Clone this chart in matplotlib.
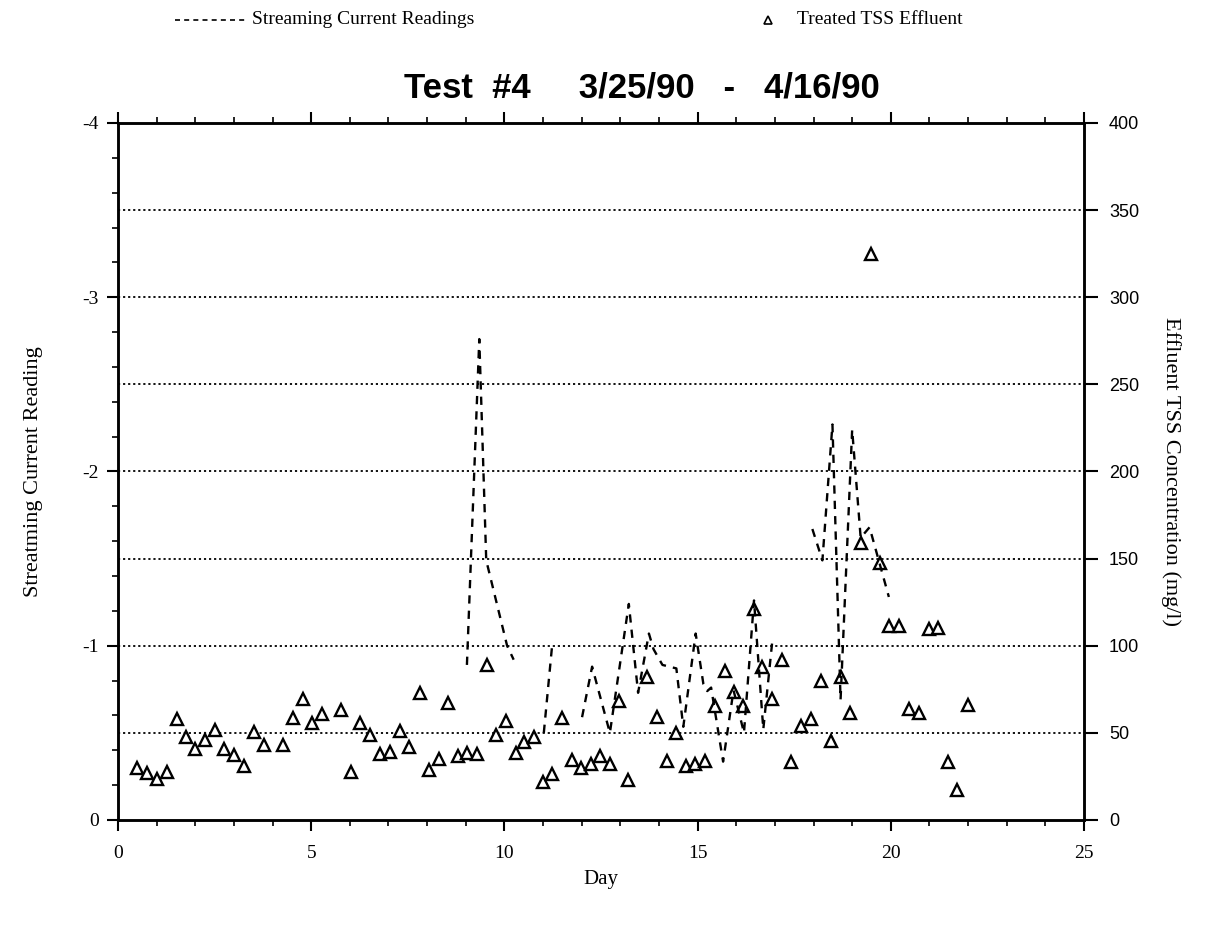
import numpy as np
import matplotlib
matplotlib.use("Agg")
import matplotlib.pyplot as plt
from matplotlib.lines import Line2D
from matplotlib.ticker import MultipleLocator

# ---------------- data ----------------
tss_day = [0.50, 0.74, 1.00, 1.26, 1.52, 1.76, 2.00, 2.26, 2.51, 2.75, 3.01, 3.26,
           3.52, 3.77, 4.26, 4.53, 4.78, 5.02, 5.28, 5.78, 6.03, 6.27, 6.53, 6.77,
           7.03, 7.29, 7.54, 7.81, 8.04, 8.30, 8.55, 8.79, 9.03, 9.29, 9.54, 9.78,
           10.05, 10.29, 10.52, 10.76, 10.99, 11.24, 11.49, 11.74, 11.99, 12.23,
           12.47, 12.73, 12.97, 13.20, 13.70, 13.95, 14.20, 14.45, 14.69, 14.93,
           15.18, 15.45, 15.70, 15.94, 16.18, 16.46, 16.67, 16.93, 17.19, 17.42,
           17.68, 17.94, 18.20, 18.45, 18.70, 18.95, 19.22, 19.48, 19.72, 19.96,
           20.22, 20.47, 20.73, 20.98, 21.23, 21.47, 21.71, 21.99]
tss_val = [29.7, 26.8, 23.7, 27.5, 57.8, 47.8, 40.6, 45.9, 51.6, 40.6, 37.3, 31.0,
           50.7, 43.0, 43.0, 58.8, 69.4, 55.5, 61.1, 63.1, 27.7, 55.5, 48.8, 37.7,
           38.8, 51.1, 42.1, 73.1, 28.7, 35.2, 67.0, 36.9, 38.5, 37.6, 89.0, 48.8,
           57.0, 38.2, 44.9, 47.4, 22.0, 26.4, 58.3, 34.4, 30.1, 32.1,
           36.7, 32.1, 68.3, 23.0, 81.8, 59.3, 33.9, 50.1, 31.0, 32.1,
           33.9, 65.4, 85.7, 73.6, 65.4, 121.0, 88.0, 69.7, 91.8, 33.4,
           53.9, 57.7, 79.8, 45.5, 82.2, 61.6, 158.8, 325.0, 147.3, 111.3,
           111.3, 63.5, 61.2, 109.4, 110.0, 33.5, 17.2, 66.0]

sc_day = [9.03, 9.35, 9.53, 10.07, 10.24, np.nan,
          11.02, 11.23, np.nan,
          12.01, 12.27, 12.73, 13.22, 13.46, 13.74, 13.86, 14.09, 14.45, 14.63,
          14.95, 15.15, 15.25, 15.35, 15.66, 15.93, 16.20, 16.46, 16.70, 16.93, np.nan,
          17.97, 18.23, 18.49, 18.70, 19.00, 19.22, 19.45, 19.95]
sc_val = [-0.89, -2.76, -1.49, -1.00, -0.92, np.nan,
          -0.50, -0.99, np.nan,
          -0.59, -0.88, -0.50, -1.24, -0.73, -1.07, -0.98, -0.89, -0.87, -0.535,
          -1.07, -0.78, -0.74, -0.76, -0.335, -0.745, -0.50, -1.26, -0.52, -1.02, np.nan,
          -1.67, -1.49, -2.27, -0.69, -2.24, -1.62, -1.68, -1.28]

grid_levels = [50, 100, 150, 200, 250, 300, 350]
x_ticks = [0, 5, 10, 15, 20, 25]
left_ticks = [0, -1, -2, -3, -4]
right_ticks = [0, 50, 100, 150, 200, 250, 300, 350, 400]

# ---------------- figure ----------------
SERIF = ["Liberation Serif", "DejaVu Serif"]
SANS = ["Liberation Sans", "DejaVu Sans"]

fig = plt.figure(figsize=(12.15, 9.33), dpi=100)
ax = fig.add_axes([118/1215, 1 - 820/933, (1084-118)/1215, (820-123)/933])
ax2 = ax.twinx()

# left axis (streaming current), inverted so -4 is at top
ax.set_xlim(0, 25)
ax.set_ylim(0, -4)
ax2.set_ylim(0, 400)

for lvl in grid_levels:
    ax2.axhline(lvl, color="black", linestyle=(0, (1.2, 1.6)), linewidth=1.3, zorder=1)

ax.plot(sc_day, sc_val, color="black", linestyle=(0, (3.5, 3)), linewidth=1.7, zorder=3)
ax2.plot(tss_day, tss_val, linestyle="none", marker="^", markersize=8,
         markerfacecolor="white", markeredgecolor="black", markeredgewidth=1.7, zorder=4)

ax.set_zorder(ax2.get_zorder() + 1)
ax.patch.set_visible(False)

for a in (ax, ax2):
    for s in a.spines.values():
        s.set_linewidth(1.8)

ax.set_xticks(x_ticks)
ax.xaxis.set_minor_locator(MultipleLocator(1))
ax.set_yticks(left_ticks)
ax.set_yticklabels([str(v) for v in left_ticks])
ax.yaxis.set_minor_locator(MultipleLocator(0.2))
ax.tick_params(axis="x", which="both", direction="out", top=True, bottom=True,
               labeltop=False)
ax.tick_params(axis="x", which="major", length=8, width=1.5, pad=10)
ax.tick_params(axis="x", which="minor", length=4, width=1.2)
ax.tick_params(axis="y", which="major", direction="out", length=8, width=1.5, pad=6)
ax.tick_params(axis="y", which="minor", direction="out", length=4, width=1.2)

ax2.set_yticks(right_ticks)
ax2.tick_params(axis="y", which="major", direction="out", length=10, width=1.5, pad=8)

for lab in ax.get_xticklabels() + ax.get_yticklabels():
    lab.set_fontfamily(SERIF)
    lab.set_fontsize(14)
for lab in ax2.get_yticklabels():
    lab.set_fontfamily(SANS)
    lab.set_fontsize(13)

ax.set_xlabel("Day", fontfamily=SERIF, fontsize=15, labelpad=6)
ax.set_ylabel("Streatming Current Reading", fontfamily=SERIF, fontsize=16, labelpad=28)
ax2.set_ylabel("Effluent TSS Concentration (mg/l)", fontfamily=SERIF, fontsize=16,
               rotation=-90, labelpad=30)

# title
fig.text(642/1215, 1 - 88/933, "Test  #4     3/25/90   -   4/16/90",
         ha="center", va="center", fontsize=25, fontweight="bold",
         fontfamily=["Liberation Sans Narrow", "Liberation Sans", "DejaVu Sans"])

# legend (top of figure)
ly = 1 - 20/933
fig.add_artist(Line2D([175/1215, 247/1215], [ly, ly], color="black",
                      linestyle=(0, (3, 2.5)), linewidth=1.2))
fig.text(252/1215, ly, "Streaming Current Readings", ha="left", va="center",
         fontsize=14, fontfamily=SERIF)
fig.add_artist(Line2D([768/1215], [ly], marker="^", markersize=6,
                      markerfacecolor="white", markeredgecolor="black",
                      markeredgewidth=1.2, linestyle="none"))
fig.text(797/1215, ly, "Treated TSS Effluent", ha="left", va="center",
         fontsize=14, fontfamily=SERIF)

fig.savefig("out.png", dpi=100)
